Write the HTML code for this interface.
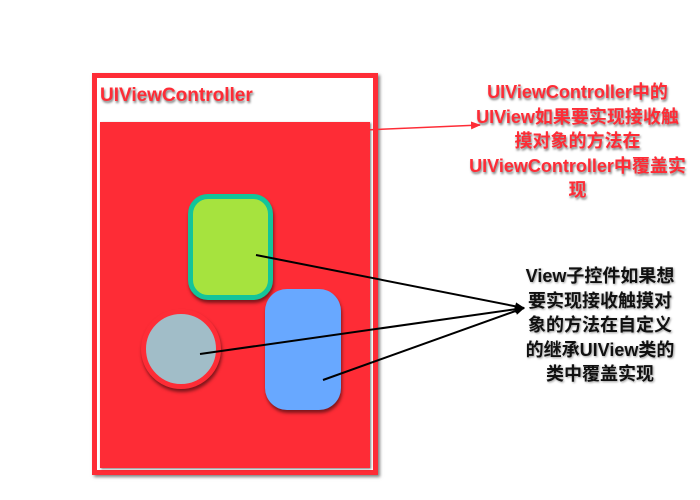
<!DOCTYPE html>
<html><head><meta charset="utf-8"><style>
body{margin:0;width:700px;height:500px;background:#fff;overflow:hidden;position:relative;font-family:"Liberation Sans","Noto Sans CJK SC",sans-serif;}
.abs{position:absolute;}
.txt{font-weight:bold;font-size:18px;line-height:24.5px;text-align:center;white-space:nowrap;}
</style></head><body>
<div class="abs" style="left:92px;top:73px;width:276px;height:392px;border:5px solid #fe2c36;box-shadow:2px 2px 3px rgba(0,0,0,.5);background:#fff"></div>
<div class="abs txt" style="left:100px;top:84px;color:#fe2c36;font-size:19px;text-shadow:1px 2px 2px rgba(0,0,0,.5)">UIViewController</div>
<div class="abs" style="left:100px;top:122px;width:270px;height:346px;background:#fe2c36;box-shadow:1px 1px 2px rgba(0,0,0,.5)"></div>
<div class="abs" style="left:188px;top:194px;width:75px;height:96px;background:#a6e33e;border:5px solid #13c49a;border-radius:20px;box-shadow:1px 3px 3px rgba(0,0,0,.5)"></div>
<div class="abs" style="left:265px;top:289px;width:76px;height:121px;background:#68a8ff;border-radius:22px;box-shadow:1px 3px 3px rgba(0,0,0,.5)"></div>
<div class="abs" style="left:141px;top:309px;width:70px;height:70px;background:#a1bdc8;border:5px solid #fe2c36;border-radius:50%;box-shadow:1px 3px 3px rgba(0,0,0,.5)"></div>
<svg class="abs" style="left:0;top:0" width="700" height="500">
<defs>
<marker id="ar" markerWidth="10" markerHeight="8" refX="9" refY="4" orient="auto" markerUnits="userSpaceOnUse"><path d="M0,0L10,4L0,8z" fill="#fe2c36"/></marker>
<marker id="ab" markerWidth="10" markerHeight="8" refX="9" refY="4" orient="auto" markerUnits="userSpaceOnUse"><path d="M0,0L10,4L0,8z" fill="#000"/></marker>
</defs>
<line x1="365" y1="130" x2="480" y2="125" stroke="#fe2c36" stroke-width="1.5" marker-end="url(#ar)"/>
<line x1="256" y1="255" x2="524" y2="308" stroke="#000" stroke-width="2" marker-end="url(#ab)"/>
<line x1="200" y1="354" x2="524" y2="308" stroke="#000" stroke-width="2" marker-end="url(#ab)"/>
<line x1="323" y1="380" x2="524" y2="308" stroke="#000" stroke-width="2" marker-end="url(#ab)"/>
</svg>
<div class="abs txt" style="left:455px;top:80px;width:245px;color:#fe2c36;text-shadow:1px 2px 2px rgba(0,0,0,.5)">UIViewController中的<br>UIView如果要实现接收触<br>摸对象的方法在<br>UIViewController中覆盖实<br>现</div>
<div class="abs txt" style="left:510px;top:264px;width:180px;color:#111;text-shadow:1px 1px 2px rgba(0,0,0,.4)">View子控件如果想<br>要实现接收触摸对<br>象的方法在自定义<br>的继承UIView类的<br>类中覆盖实现</div>
</body></html>
